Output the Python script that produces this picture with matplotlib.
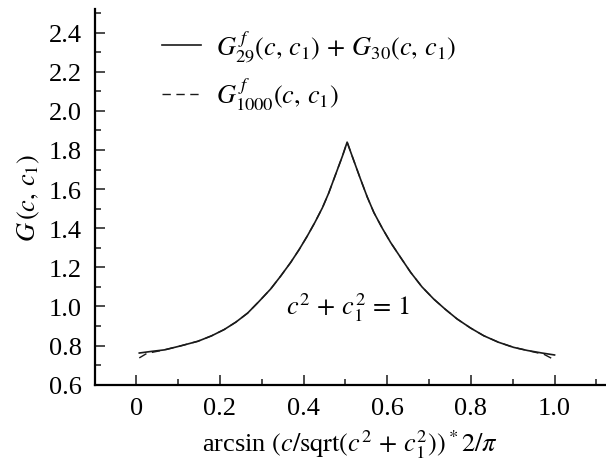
import matplotlib
matplotlib.use("Agg")

import matplotlib.pyplot as plt
from matplotlib.ticker import MultipleLocator, FormatStrFormatter

plt.rcParams["font.family"] = ["Liberation Serif", "DejaVu Serif"]
plt.rcParams["mathtext.fontset"] = "stix"

# ── data ──
x_sum = [0.007, 0.035, 0.067, 0.105, 0.147, 0.18, 0.21, 0.238, 0.266, 0.293, 0.321,
         0.345, 0.369, 0.389, 0.409, 0.427, 0.445, 0.46, 0.473, 0.493, 0.504,
         0.52, 0.536, 0.552, 0.568, 0.588, 0.608, 0.632, 0.656, 0.683, 0.711,
         0.739, 0.767, 0.799, 0.831, 0.866, 0.902, 0.935, 0.97, 1.0]
g_sum = [0.762, 0.770, 0.778, 0.798, 0.822, 0.850, 0.882, 0.920, 0.966, 1.025, 1.089,
         1.155, 1.225, 1.290, 1.361, 1.430, 1.505, 1.580, 1.655, 1.770, 1.840,
         1.745, 1.651, 1.560, 1.480, 1.400, 1.327, 1.250, 1.174, 1.100, 1.038,
         0.985, 0.936, 0.890, 0.850, 0.817, 0.791, 0.775, 0.762, 0.752]

x_1000 = [0.007, 0.025, 0.067, 0.105, 0.147, 0.18, 0.21, 0.238, 0.266, 0.293, 0.321,
          0.345, 0.369, 0.389, 0.409, 0.427, 0.445, 0.46, 0.473, 0.493, 0.504,
          0.52, 0.536, 0.552, 0.568, 0.588, 0.608, 0.632, 0.656, 0.683, 0.711,
          0.739, 0.767, 0.799, 0.831, 0.866, 0.902, 0.935, 0.975, 1.0]
g_1000 = [0.737, 0.760, 0.778, 0.798, 0.822, 0.850, 0.882, 0.920, 0.966, 1.025, 1.089,
          1.155, 1.225, 1.290, 1.361, 1.430, 1.505, 1.580, 1.655, 1.770, 1.840,
          1.745, 1.651, 1.560, 1.480, 1.400, 1.327, 1.250, 1.174, 1.100, 1.038,
          0.985, 0.936, 0.890, 0.850, 0.817, 0.791, 0.775, 0.755, 0.727]

label_sum = r"$G^{\,f}_{29}(c,\,c_1)\,+\,G_{30}(c,\,c_1)$"
label_1000 = r"$G^{\,f}_{1000}(c,\,c_1)$"

FS = 19

fig = plt.figure(figsize=(6.06, 4.6), dpi=100)
ax = fig.add_axes([0.156, 0.1615, 0.844, 0.8165])

ax.plot(x_1000, g_1000, color="#1a1a1a", lw=1.0, ls=(0, (6, 4)), label=label_1000)
ax.plot(x_sum, g_sum, color="#1a1a1a", lw=1.2, ls="-", label=label_sum)

ax.text(0.505, 1.0, r"$c^2\,+\,c_1^2\,=\,1$", fontsize=FS, ha="center", va="center")

ax.set_xlim(-0.1, 1.123)
ax.set_ylim(0.6, 2.52)
ax.xaxis.set_major_locator(MultipleLocator(0.2))
ax.xaxis.set_minor_locator(MultipleLocator(0.1))
ax.yaxis.set_major_locator(MultipleLocator(0.2))
ax.yaxis.set_minor_locator(MultipleLocator(0.1))
ax.yaxis.set_major_formatter(FormatStrFormatter("%.1f"))
ax.set_xticks([0, 0.2, 0.4, 0.6, 0.8, 1.0])
ax.set_xticklabels(["0", "0.2", "0.4", "0.6", "0.8", "1.0"])

ax.tick_params(which="both", direction="in", labelsize=FS, color="#1a1a1a", width=1.1)
ax.tick_params(which="major", length=7.5, pad=9)
ax.tick_params(which="minor", length=4.5)
ax.spines["top"].set_visible(False)
ax.spines["right"].set_visible(False)
ax.spines["left"].set_linewidth(1.6)
ax.spines["bottom"].set_linewidth(1.6)

ax.set_xlabel(r"arcsin $(c/\mathrm{sqrt}(c^2\,+\,c_1^2))^*2/\pi$", fontsize=FS, labelpad=6)
ax.set_ylabel(r"$G\,(c,\,c_1)$", fontsize=FS, labelpad=5)

handles, labels = ax.get_legend_handles_labels()
ax.legend(handles[::-1], labels[::-1], loc="upper left", bbox_to_anchor=(0.09, 1.005),
          frameon=False, fontsize=FS, handlelength=1.5, handletextpad=0.55,
          labelspacing=0.45, borderpad=0.3)

fig.savefig("out.png", dpi=100)
